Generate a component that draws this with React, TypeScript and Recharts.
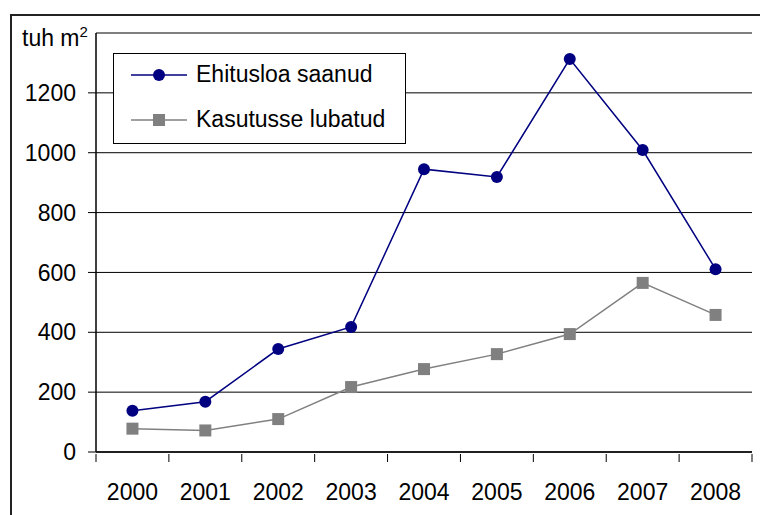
import { LineChart, Line, XAxis, YAxis, CartesianGrid, ReferenceLine, Legend } from "recharts";

const years = ["2000", "2001", "2002", "2003", "2004", "2005", "2006", "2007", "2008"];
const ehitusloa = [138, 168, 344, 418, 945, 919, 1313, 1009, 611];
const kasutusse = [78, 72, 110, 217, 277, 327, 394, 565, 458];
const yTicks = [0, 200, 400, 600, 800, 1000, 1200];

const seriesNames = { ehitusloa: "Ehitusloa saanud", kasutusse: "Kasutusse lubatud" };

const data = years.map((year, i) => ({
  year,
  ehitusloa: ehitusloa[i],
  kasutusse: kasutusse[i],
}));

const FONT = "'Liberation Sans', Arial, sans-serif";
const PLOT_W = 656;
const BAND = PLOT_W / years.length;

const XTick = (props: any) => {
  const { x, y, payload, index } = props;
  const last = index === years.length - 1;
  return (
    <g>
      <line x1={x - BAND / 2} x2={x - BAND / 2} y1={y} y2={y + 8} stroke="#000" />
      {last && <line x1={x + BAND / 2} x2={x + BAND / 2} y1={y} y2={y + 8} stroke="#000" />}
      <text x={x} y={y + 46} textAnchor="middle" fontSize={23} fontFamily={FONT} fill="#000">
        {payload.value}
      </text>
    </g>
  );
};

const SquareDot = (props: any) => {
  const { cx, cy, index } = props;
  return <rect key={`sq-${index}`} x={cx - 6} y={cy - 6} width={12} height={12} fill="#808080" />;
};

const LegendBox = () => (
  <div
    style={{
      width: 291,
      height: 89,
      border: "1px solid #000",
      background: "#fff",
      fontFamily: FONT,
      fontSize: 23,
      color: "#000",
    }}
  >
    <div style={{ position: "absolute", left: 18, top: 8, display: "flex", alignItems: "center" }}>
      <svg width={56} height={20}>
        <line x1={0} x2={56} y1={10} y2={10} stroke="#000080" strokeWidth={1.5} />
        <circle cx={28} cy={10} r={6} fill="#000080" />
      </svg>
      <span style={{ marginLeft: 9 }}>{seriesNames.ehitusloa}</span>
    </div>
    <div style={{ position: "absolute", left: 18, top: 53, display: "flex", alignItems: "center" }}>
      <svg width={56} height={20}>
        <line x1={0} x2={56} y1={10} y2={10} stroke="#808080" strokeWidth={1.5} />
        <rect x={22} y={4} width={12} height={12} fill="#808080" />
      </svg>
      <span style={{ marginLeft: 9 }}>{seriesNames.kasutusse}</span>
    </div>
  </div>
);

export default function App() {
  return (
    <div style={{ position: "relative", width: 768, height: 515, margin: "-8px 0 0 -8px", background: "#fff", overflow: "hidden" }}>
      <div
        style={{
          position: "absolute",
          left: 10,
          top: 14,
          width: 800,
          height: 600,
          borderLeft: "2px solid #222",
          borderTop: "2px solid #222",
        }}
      />
      <div style={{ position: "absolute", left: 22, top: 26, fontFamily: FONT, fontSize: 23, color: "#000", lineHeight: "24px" }}>
        tuh m<sup style={{ fontSize: 15, verticalAlign: "top", position: "relative", top: -6 }}>2</sup>
      </div>
      <div style={{ position: "absolute", left: 0, top: 0 }}>
        <LineChart width={768} height={515} data={data} margin={{ top: 33, right: 16, bottom: 0, left: 0 }}>
          <CartesianGrid vertical={false} stroke="#000" strokeWidth={1} />
          <ReferenceLine y={1400} stroke="#808080" strokeWidth={2} />
          <XAxis
            dataKey="year"
            height={63}
            tickSize={0}
            tickLine={false}
            tick={<XTick />}
            axisLine={{ stroke: "#000", strokeWidth: 1.5 }}
            interval={0}
            padding={{ left: BAND / 2, right: BAND / 2 }}
          />
          <YAxis
            width={96}
            domain={[0, 1400]}
            ticks={yTicks}
            tickSize={8}
            tickMargin={12}
            tick={{ fontSize: 23, fontFamily: FONT, fill: "#000" }}
            tickLine={{ stroke: "#000" }}
            axisLine={{ stroke: "#000", strokeWidth: 1.5 }}
          />
          <YAxis
            yAxisId="right"
            orientation="right"
            width={0}
            domain={[0, 1400]}
            tick={false}
            tickLine={false}
            axisLine={{ stroke: "#808080", strokeWidth: 2 }}
          />
          <Legend
            layout="horizontal"
            verticalAlign="middle"
            align="center"
            content={<LegendBox />}
            wrapperStyle={{ position: "absolute", left: 113, top: 53, width: 293, height: 91 }}
          />
          <Line
            type="linear"
            dataKey="kasutusse"
            name={seriesNames.kasutusse}
            stroke="#808080"
            strokeWidth={1.5}
            dot={<SquareDot />}
            isAnimationActive={false}
          />
          <Line
            type="linear"
            dataKey="ehitusloa"
            name={seriesNames.ehitusloa}
            stroke="#000080"
            strokeWidth={1.5}
            dot={{ r: 6, fill: "#000080", stroke: "none" }}
            isAnimationActive={false}
          />
        </LineChart>
      </div>
    </div>
  );
}
